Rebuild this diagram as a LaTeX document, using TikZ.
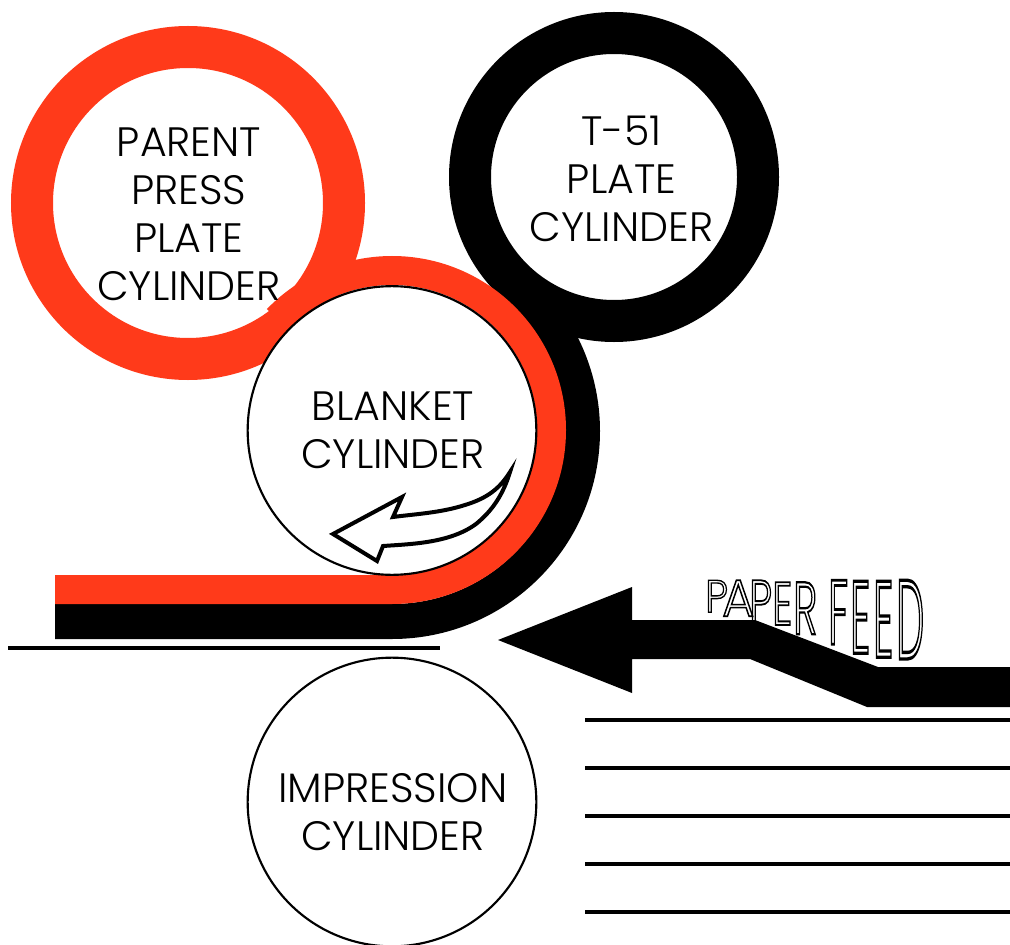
\documentclass[tikz,border=0pt]{standalone}
\usepackage{fontspec}
\usepackage{graphicx}
\setmainfont{Poppins Light}
\definecolor{redink}{RGB}{255,58,26}
\tikzset{
  lab/.style={align=center,font=\fontsize{30.8}{36}\selectfont,inner sep=0pt,text=black},
  cyl/.style={circle,draw=black,line width=1.6pt,fill=white,minimum size=216.5pt,inner sep=0pt},
  ring/.style={circle,line width=31.5pt,fill=white,inner sep=0pt},
  band/.style={line cap=butt},
  rulethick/.style={line width=3.6pt,draw=black},
  warp/.style={anchor=north west,inner sep=0pt}
}
\newcommand{\wl}[5]{\node[warp] at (#1,#2) {\resizebox{#3pt}{#4pt}{\special{pdf:code 1 Tr 0.3 w}#5\special{pdf:code 0 Tr}}};}
\begin{document}
\begin{tikzpicture}[x=0.75pt,y=-0.75pt]
\useasboundingbox (0,0) rectangle (1010,945);
% rings
\node[ring,draw=redink,minimum size=234pt] (parent) at (188,203) {};
\node[ring,draw=black,minimum size=216pt] (t51) at (614,177) {};
% bands
\draw[band,black,line width=26.25pt] (55,621.5) -- (392,621.5) arc[start angle=90,end angle=-50,radius=190.5];
\draw[band,redink,line width=21.75pt] (55,589.5) -- (392,589.5) arc[start angle=90,end angle=-136,radius=159.5];
% cylinders
\node[cyl] (blanket) at (392,430.5) {};
\node[cyl] (impression) at (392,802) {};
% texts
\node[lab] (tparent) at (189,214) {PARENT\\PRESS\\PLATE\\CYLINDER};
\node[lab] (tt) at (621.5,179) {T-51\\PLATE\\CYLINDER};
\node[lab] (tb) at (393,430) {BLANKET\\CYLINDER};
\node[lab] (ti) at (393,812) {IMPRESSION\\CYLINDER};
% swoosh
\draw[black,fill=white,line width=3pt,miter limit=10] (510,472) .. controls (500,488) and (488,498) .. (465,505) .. controls (440,513) and (415,514) .. (393,517) -- (402,497) -- (333,534) -- (377,561) -- (383,546) .. controls (412,544) and (450,543) .. (476,524) .. controls (492,511) and (503,495) .. cycle;
% rules
\draw[rulethick] (8,648) -- (440,648);
\foreach \yy in {720,768,816,864,912} \draw[rulethick] (585,\yy) -- (1010,\yy);
% feed arrow
\fill[black] (498,640) -- (632,587) -- (632,620) -- (755,620) -- (878,667) -- (1010,667) -- (1010,707) -- (867,707) -- (750,659) -- (632,659) -- (632,693) -- cycle;
% warped text
\wl{705}{580}{17}{24}{P}
\wl{722}{580}{24}{27}{A}
\wl{749}{580}{17}{32}{P}
\wl{772}{582}{15}{32}{E}
\wl{793}{582}{18}{39}{R}
\wl{828}{580}{15}{48}{F}
\wl{850}{581}{15}{54}{E}
\wl{873}{581}{15}{57}{E}
\wl{896}{580}{21}{59}{D}
\end{tikzpicture}
\end{document}
